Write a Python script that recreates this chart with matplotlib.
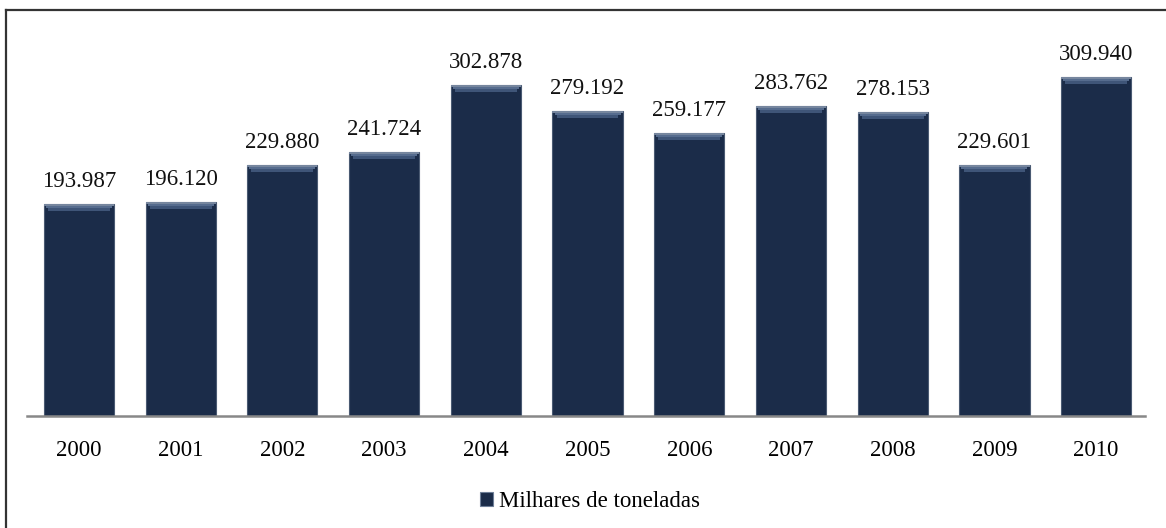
import matplotlib.pyplot as plt
from matplotlib.lines import Line2D
from matplotlib.patches import Patch

plt.rcParams['font.family'] = ['Liberation Serif', 'DejaVu Serif']

# Production by year (thousand tonnes)
years = ['2000', '2001', '2002', '2003', '2004', '2005',
         '2006', '2007', '2008', '2009', '2010']
values = [193.987, 196.120, 229.880, 241.724, 302.878, 279.192,
          259.177, 283.762, 278.153, 229.601, 309.940]
value_labels = ['193.987', '196.120', '229.880', '241.724', '302.878', '279.192',
                '259.177', '283.762', '278.153', '229.601', '309.940']
series_name = 'Milhares de toneladas'

bar_color = '#1b2c49'
edge_color = '#4a5a72'
fs = 16.5

fig = plt.figure(figsize=(11.66, 5.28), dpi=100)
ax = fig.add_axes([0.0232, 0.2121, 0.9588, 0.7245])

x = list(range(len(years)))
width = 0.69
ax.bar(x, values, width=width, color=bar_color, edgecolor=edge_color,
       linewidth=0.8, zorder=2)

# bevelled highlight along the top of each bar
band = 6.5
ax.bar(x, [band * 0.5] * len(values), width=width * 0.88,
       bottom=[v - band for v in values],
       color='#3f5578', linewidth=0, zorder=3)
ax.bar(x, [band * 0.3] * len(values), width=width * 0.94,
       bottom=[v - band * 0.55 for v in values],
       color='#566c8e', linewidth=0, zorder=3)
ax.bar(x, [band * 0.28] * len(values), width=width,
       bottom=[v - band * 0.28 for v in values],
       color='#76869e', linewidth=0, zorder=3)

for xi, v, lab in zip(x, values, value_labels):
    ax.text(xi, v + 11, lab, ha='center', va='bottom', fontsize=fs, color='#111111')

ax.set_xlim(-0.51, 10.48)
ax.set_ylim(0, 350)
ax.set_xticks(x)
ax.set_xticklabels(years, fontsize=fs)
ax.tick_params(axis='x', length=0, pad=17)
ax.set_yticks([])
for side in ['top', 'right', 'left']:
    ax.spines[side].set_visible(False)
ax.spines['bottom'].set_color('#888888')
ax.spines['bottom'].set_linewidth(1.8)
ax.spines['bottom'].set_zorder(4)

handle = Patch(facecolor=bar_color, edgecolor='#6e7f98', linewidth=0.8)
fig.legend([handle], [series_name], loc='center', bbox_to_anchor=(0.506, 0.05),
           frameon=False, fontsize=fs, handlelength=0.55, handleheight=0.55,
           handletextpad=0.25)

# outer frame (top and left edges visible)
fig.add_artist(Line2D([6 / 1166, 1.0], [1 - 10 / 528, 1 - 10 / 528],
                      transform=fig.transFigure, color='#333333', linewidth=1.6))
fig.add_artist(Line2D([6 / 1166, 6 / 1166], [0.0, 1 - 10 / 528],
                      transform=fig.transFigure, color='#333333', linewidth=1.6))

fig.savefig('out.png', dpi=100)
